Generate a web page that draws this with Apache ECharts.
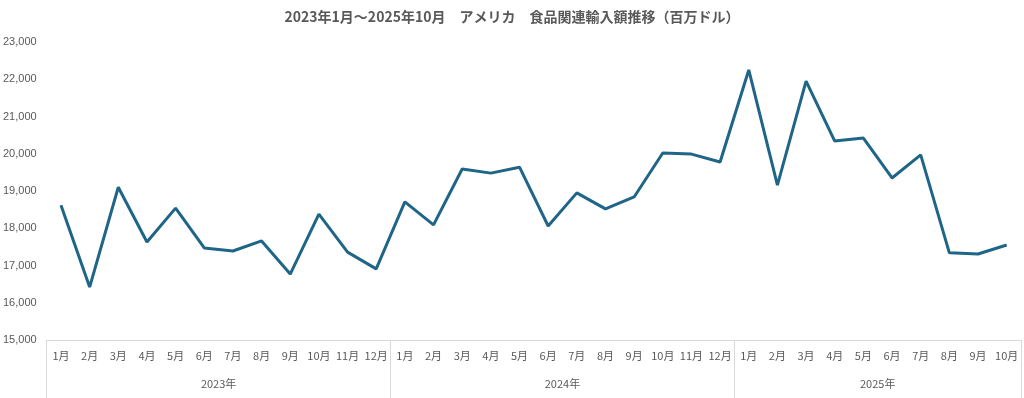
<!DOCTYPE html>
<html><head><meta charset="utf-8">
<script src="https://cdn.jsdelivr.net/npm/echarts@6/dist/echarts.min.js"></script>
<style>html,body{margin:0;padding:0;background:#fff}#c{width:1024px;height:398px}</style>
</head><body><div id="c"></div>
<script>
const months = ['1月','2月','3月','4月','5月','6月','7月','8月','9月','10月','11月','12月',
  '1月','2月','3月','4月','5月','6月','7月','8月','9月','10月','11月','12月',
  '1月','2月','3月','4月','5月','6月','7月','8月','9月','10月'];
const years = ['2023年','2024年','2025年'];
const yearMonthCounts = [12, 12, 10];
const imports = [18620,16420,19100,17630,18540,17470,17390,17660,16770,18380,17360,16910,
  18710,18090,19590,19480,19640,18060,18950,18520,18840,20020,19990,19780,
  22250,19160,21950,20340,20420,19350,19970,17340,17310,17550];
const yTicks = {min:15000, max:23000, interval:1000};

const total = months.length;
const yearCenters = {};
let acc = 0;
yearMonthCounts.forEach((n,i)=>{ yearCenters[acc + n/2] = years[i]; acc += n; });

const font = '"Noto Sans CJK JP","Noto Sans",sans-serif';
const chart = echarts.init(document.getElementById('c'));
chart.setOption({
  animation:false,
  title:{text:'2023年1月～2025年10月　アメリカ　食品関連輸入額推移（百万ドル）',left:'center',top:5,
    textStyle:{fontFamily:font,fontSize:14,fontWeight:'bold',color:'#595959'}},
  grid:{left:45,right:2,top:42,bottom:58},
  xAxis:[
    {type:'category',data:months,boundaryGap:true,
      axisLine:{lineStyle:{color:'#d9d9d9',width:1}},
      axisTick:{show:false},
      axisLabel:{interval:0,color:'#595959',fontSize:11,fontFamily:font,margin:10}},
    {type:'value',min:0,max:total,interval:12,position:'bottom',
      axisLine:{show:false},splitLine:{show:false},
      axisTick:{show:true,length:58,lineStyle:{color:'#d9d9d9',width:1}},
      axisLabel:{show:false}},
    {type:'value',min:0,max:total,interval:1,position:'bottom',
      axisLine:{show:false},splitLine:{show:false},axisTick:{show:false},
      axisLabel:{show:true,margin:38,color:'#595959',fontSize:11,fontFamily:font,
        formatter:v=>yearCenters[v]||''}}
  ],
  yAxis:{type:'value',min:yTicks.min,max:yTicks.max,interval:yTicks.interval,
    axisLine:{show:false},axisTick:{show:false},splitLine:{show:false},
    axisLabel:{color:'#595959',fontSize:11,fontFamily:'"Liberation Sans",Arial,sans-serif',margin:10,
      formatter:v=>v.toLocaleString('en-US')}},
  series:[{type:'line',data:imports,xAxisIndex:0,showSymbol:false,symbol:'none',
    lineStyle:{color:'#1f6587',width:3},itemStyle:{color:'#1f6587'}}]
});
</script></body></html>
